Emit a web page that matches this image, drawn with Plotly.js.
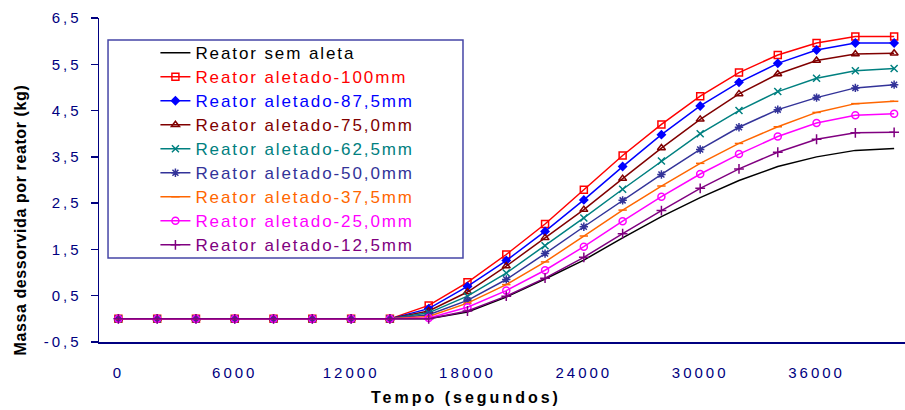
<!DOCTYPE html>
<html>
<head>
<meta charset="utf-8">
<script src="https://cdn.plot.ly/plotly-3.0.1.min.js"></script>
<style>
  html, body { margin: 0; padding: 0; background: #fff; }
  #chart { width: 905px; height: 410px; }
  .xtick text, .ytick text { letter-spacing: 3px; }
  .legendtext { letter-spacing: 1.9px; }
</style>
</head>
<body>
<div id="chart"></div>
<script>
// Time (s)
const tempo = [0, 2000, 4000, 6000, 8000, 10000, 12000, 14000, 16000, 18000, 20000,
               22000, 24000, 26000, 28000, 30000, 32000, 34000, 36000, 38000, 40000];

// Mass desorbed per reactor (kg)
const semAleta   = [0,0,0,0,0,0,0,0, 0.00, 0.15, 0.47, 0.86, 1.27, 1.75, 2.21, 2.62, 2.99, 3.29, 3.50, 3.64, 3.68];
const al100      = [0,0,0,0,0,0,0,0, 0.29, 0.79, 1.39, 2.05, 2.79, 3.53, 4.20, 4.81, 5.32, 5.70, 5.96, 6.10, 6.10];
const al87_5     = [0,0,0,0,0,0,0,0, 0.22, 0.70, 1.26, 1.89, 2.57, 3.29, 3.98, 4.60, 5.11, 5.52, 5.81, 5.96, 5.96];
const al75_0     = [0,0,0,0,0,0,0,0, 0.17, 0.58, 1.14, 1.75, 2.36, 3.03, 3.69, 4.31, 4.86, 5.29, 5.58, 5.72, 5.74];
const al62_5     = [0,0,0,0,0,0,0,0, 0.13, 0.49, 0.99, 1.58, 2.18, 2.80, 3.41, 4.00, 4.50, 4.91, 5.20, 5.36, 5.41];
const al50_0     = [0,0,0,0,0,0,0,0, 0.09, 0.40, 0.85, 1.41, 1.99, 2.56, 3.12, 3.66, 4.14, 4.52, 4.78, 4.99, 5.06];
const al37_5     = [0,0,0,0,0,0,0,0, 0.05, 0.34, 0.74, 1.23, 1.79, 2.35, 2.87, 3.36, 3.79, 4.15, 4.46, 4.65, 4.70];
const al25_0     = [0,0,0,0,0,0,0,0, 0.02, 0.25, 0.61, 1.05, 1.56, 2.11, 2.64, 3.13, 3.56, 3.94, 4.23, 4.40, 4.43];
const al12_5     = [0,0,0,0,0,0,0,0, 0.00, 0.17, 0.49, 0.88, 1.33, 1.84, 2.34, 2.82, 3.24, 3.60, 3.88, 4.02, 4.03];

const seriesNames = ["Reator sem aleta", "Reator aletado-100mm", "Reator aletado-87,5mm",
  "Reator aletado-75,0mm", "Reator aletado-62,5mm", "Reator aletado-50,0mm",
  "Reator aletado-37,5mm", "Reator aletado-25,0mm", "Reator aletado-12,5mm"];

const xTickVals = [0, 6000, 12000, 18000, 24000, 30000, 36000];
const xTickText = ["0", "6000", "12000", "18000", "24000", "30000", "36000"];
const yTickVals = [-0.5, 0.5, 1.5, 2.5, 3.5, 4.5, 5.5, 6.5];
const yTickText = ["-0,5", "0,5", "1,5", "2,5", "3,5", "4,5", "5,5", "6,5"];

const seriesData = [semAleta, al100, al87_5, al75_0, al62_5, al50_0, al37_5, al25_0, al12_5];
const colors  = ["#000000", "#FF0000", "#0000FF", "#800000", "#008080", "#333399", "#FF6600", "#FF00FF", "#800080"];
const symbols = [null, "square-open", "diamond", "triangle-up-open", "x-thin-open", "asterisk-open",
                 "line-ew-open", "circle-open", "cross-thin-open"];
const msizes  = [0, 7, 6, 7, 7, 7, 6, 7, 7];

const traces = seriesData.map((y, i) => {
  const t = {
    x: tempo, y: y, type: "scatter",
    mode: symbols[i] ? "lines+markers" : "lines",
    name: '<span style="color:' + colors[i] + ';font-size:17px">' + seriesNames[i] + '</span>',
    line: { color: colors[i], width: 1.5 }
  };
  if (symbols[i]) {
    t.marker = { symbol: symbols[i], size: msizes[i], color: colors[i],
                 line: { color: colors[i], width: 1.5 } };
  }
  return t;
});

const tickFont = { family: "Liberation Sans, Arial, sans-serif", size: 15, color: "#000080" };

const layout = {
  width: 905, height: 410,
  margin: { l: 99, r: 0, t: 18, b: 68 },
  paper_bgcolor: "#ffffff", plot_bgcolor: "#ffffff",
  showlegend: true,
  legend: {
    x: 0.070, y: 0.945, xanchor: "left", yanchor: "top",
    bgcolor: "rgba(0,0,0,0)", borderwidth: 0,
    font: { family: "Liberation Sans, Arial, sans-serif", size: 16.15, color: "#000000" },
    tracegroupgap: 0
  },
  xaxis: {
    range: [-1000, 40560], showgrid: false, zeroline: false,
    showline: true, linecolor: "#000080", linewidth: 1.5,
    ticks: "", tickmode: "array", tickvals: xTickVals, ticktext: xTickText,
    tickfont: tickFont, ticklabelstandoff: 16
  },
  yaxis: {
    range: [-0.5, 6.5], showgrid: false, zeroline: false,
    showline: true, linecolor: "#000080", linewidth: 1.5,
    ticks: "outside", ticklen: 7, tickcolor: "#000080", tickwidth: 1.5,
    tickmode: "array", tickvals: yTickVals, ticktext: yTickText,
    tickfont: tickFont, ticklabelstandoff: 6
  },
  shapes: [{
    type: "rect", xref: "paper", yref: "paper",
    x0: 0.0112, x1: 0.4516, y0: 0.2593, y1: 0.932,
    line: { color: "#4646a6", width: 1.5 }, fillcolor: "#ffffff", layer: "above"
  }],
  annotations: [
    { text: '<span style="letter-spacing:3px">Tempo (segundos)</span>',
      xref: "paper", yref: "paper", x: 0.455, y: -0.170, xanchor: "center", yanchor: "middle",
      showarrow: false,
      font: { family: "Liberation Sans, Arial, sans-serif", size: 16, color: "#000000", weight: "bold" } },
    { text: '<span style="letter-spacing:0.6px">Massa dessorvida por reator (kg)</span>',
      xref: "paper", yref: "paper", x: -0.098, y: 0.375, xanchor: "center", yanchor: "middle",
      textangle: -90, showarrow: false,
      font: { family: "Liberation Sans, Arial, sans-serif", size: 16, color: "#000000", weight: "bold" } }
  ]
};

Plotly.newPlot("chart", traces, layout, { displayModeBar: false, staticPlot: true });
</script>
</body>
</html>
